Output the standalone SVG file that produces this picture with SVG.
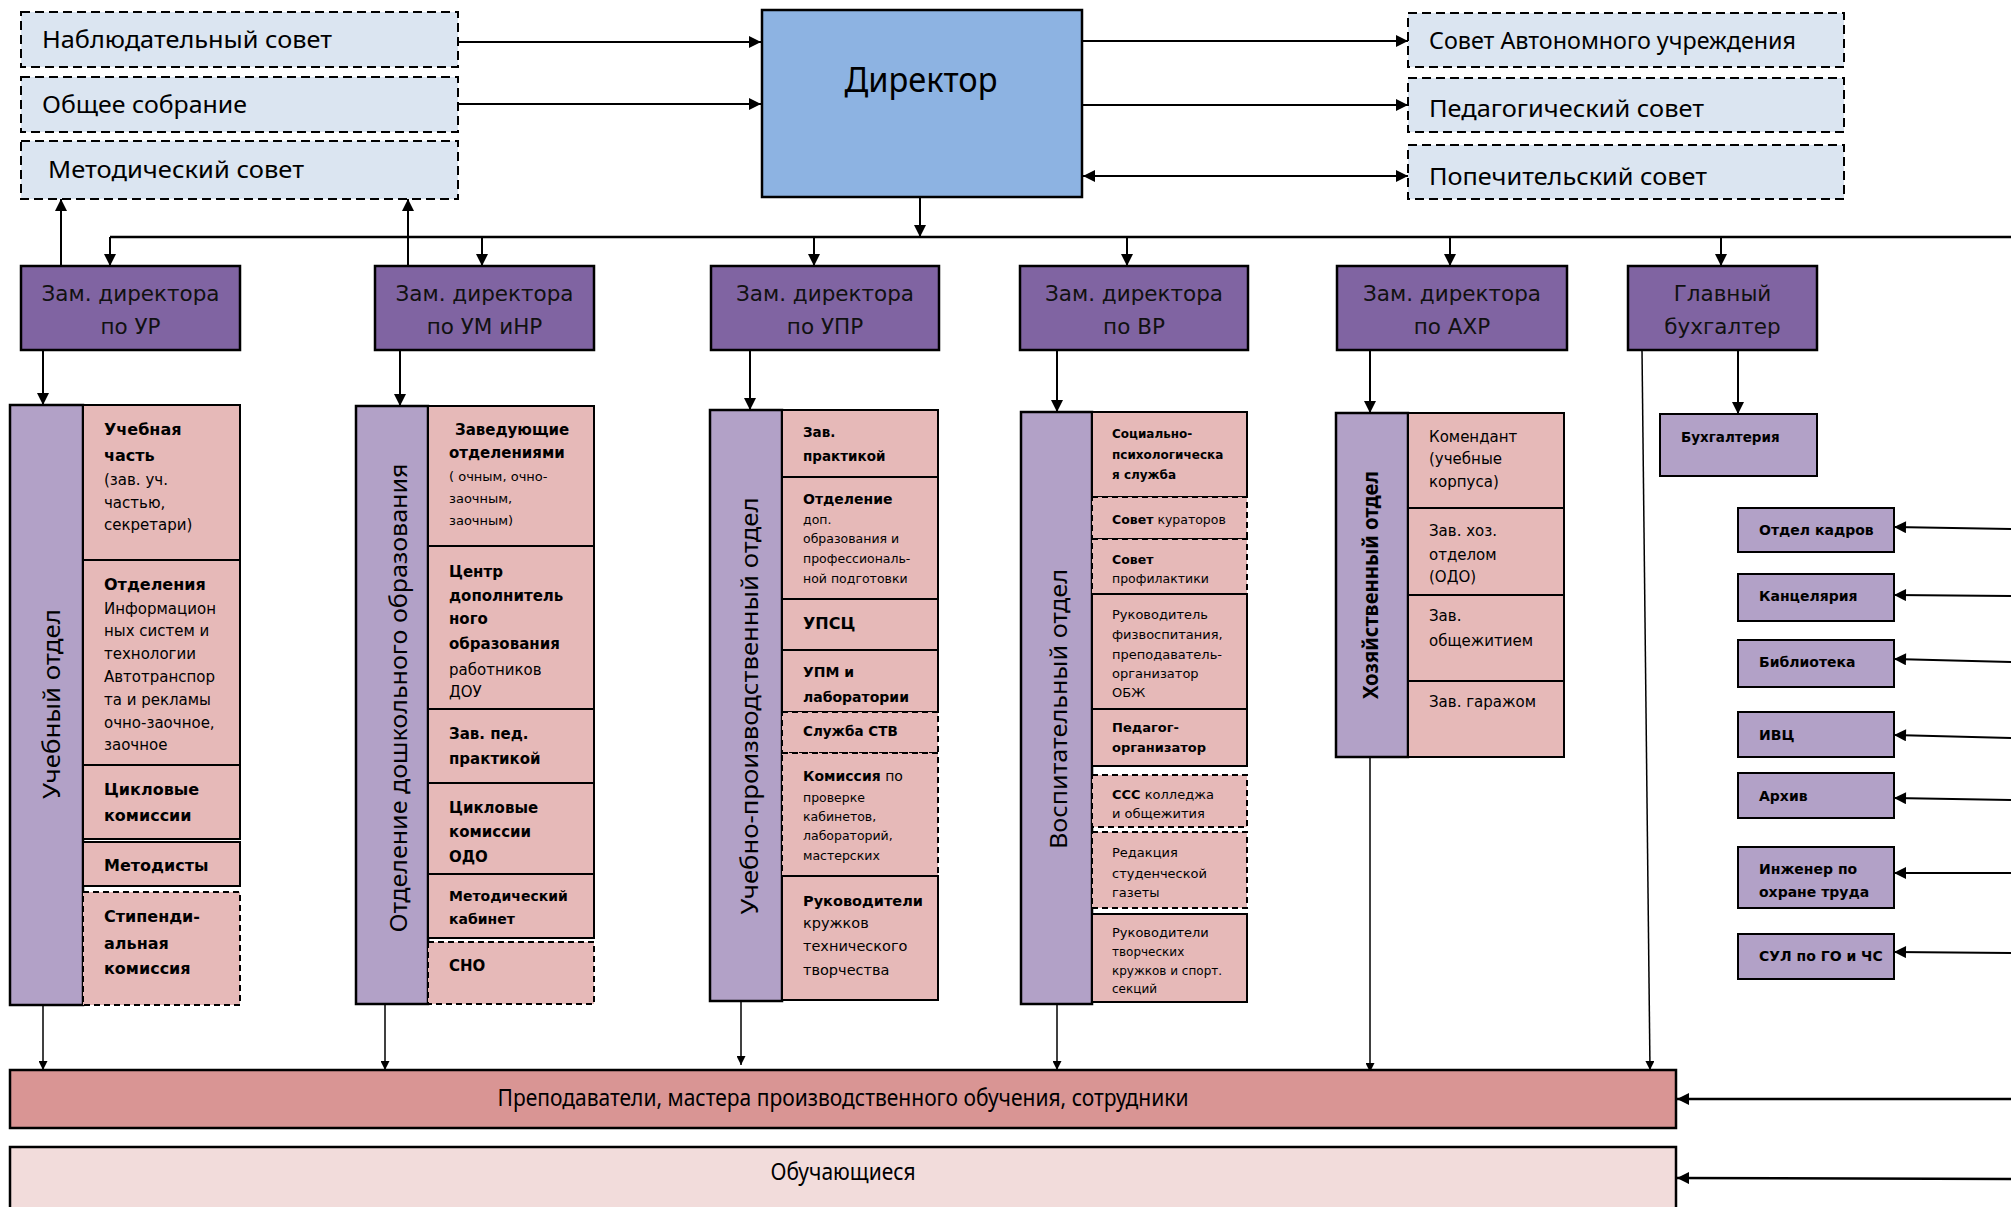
<svg xmlns="http://www.w3.org/2000/svg" width="2011" height="1207" viewBox="0 0 2011 1207">
<style>
.top{fill:#dbe5f1;stroke:#000;stroke-width:2;stroke-dasharray:9 5}
.dir{fill:#8db3e2;stroke:#000;stroke-width:2.5}
.zam{fill:#8064a2;stroke:#000;stroke-width:2.5}
.dept{fill:#b2a1c7;stroke:#000;stroke-width:2.5}
.sub{fill:#e6b9b8;stroke:#000;stroke-width:2}
.subd{fill:#e6b9b8;stroke:#000;stroke-width:2;stroke-dasharray:6 4}
.side{fill:#b2a1c7;stroke:#000;stroke-width:2}
.staff{fill:#d99594;stroke:#000;stroke-width:2.5}
.stud{fill:#f2dcdb;stroke:#000;stroke-width:2.5}
.tt{font-family:"Noto Sans","Open Sans",sans-serif;font-size:24px;fill:#000}
.tz{font-family:"DejaVu Sans",sans-serif;font-size:21.5px;fill:#111;text-anchor:middle}
.tv{font-family:"Noto Sans","Open Sans",sans-serif;font-size:24px;fill:#000;text-anchor:middle;dominant-baseline:central}
.s{font-family:"DejaVu Sans",sans-serif;fill:#000}
.b{font-weight:bold}
.c{stroke:#000;stroke-width:2;fill:none}
.cb{stroke:#000;stroke-width:2.5;fill:none}
.ct{stroke:#000;stroke-width:1.5;fill:none}
</style>
<defs>
<marker id="ah" viewBox="0 0 10 10" refX="10" refY="5" markerWidth="14" markerHeight="12" markerUnits="userSpaceOnUse" orient="auto-start-reverse"><path d="M0,0 L10,5 L0,10 z" fill="#000"/></marker>
<marker id="at" viewBox="0 0 10 10" refX="10" refY="5" markerWidth="16" markerHeight="9" markerUnits="userSpaceOnUse" orient="auto"><path d="M0,0 L10,5 L0,10 z" fill="#000"/></marker>
</defs>

<g id="connectors">
<line class="c" x1="458" y1="42" x2="761" y2="42" marker-end="url(#ah)"/>
<line class="c" x1="458" y1="104" x2="761" y2="104" marker-end="url(#ah)"/>
<line class="c" x1="1082" y1="41" x2="1408" y2="41" marker-end="url(#ah)"/>
<line class="c" x1="1082" y1="105" x2="1408" y2="105" marker-end="url(#ah)"/>
<line class="c" x1="1083" y1="176" x2="1408" y2="176" marker-start="url(#ah)" marker-end="url(#ah)"/>
<line class="c" x1="920" y1="197" x2="920" y2="237" marker-end="url(#ah)"/>
<line class="cb" x1="110" y1="237" x2="2011" y2="237"/>
<line class="c" x1="110" y1="237" x2="110" y2="266" marker-end="url(#ah)"/>
<line class="c" x1="482" y1="237" x2="482" y2="266" marker-end="url(#ah)"/>
<line class="c" x1="814" y1="237" x2="814" y2="266" marker-end="url(#ah)"/>
<line class="c" x1="1127" y1="237" x2="1127" y2="266" marker-end="url(#ah)"/>
<line class="c" x1="1450" y1="237" x2="1450" y2="266" marker-end="url(#ah)"/>
<line class="c" x1="1721" y1="237" x2="1721" y2="266" marker-end="url(#ah)"/>
<line class="c" x1="61" y1="266" x2="61" y2="199" marker-end="url(#ah)"/>
<line class="c" x1="408" y1="266" x2="408" y2="199" marker-end="url(#ah)"/>
<line class="c" x1="43" y1="350" x2="43" y2="405" marker-end="url(#ah)"/>
<line class="c" x1="400" y1="350" x2="400" y2="406" marker-end="url(#ah)"/>
<line class="c" x1="750" y1="350" x2="750" y2="410" marker-end="url(#ah)"/>
<line class="c" x1="1057" y1="350" x2="1057" y2="412" marker-end="url(#ah)"/>
<line class="c" x1="1370" y1="350" x2="1370" y2="413" marker-end="url(#ah)"/>
<line class="c" x1="1738" y1="350" x2="1738" y2="414" marker-end="url(#ah)"/>
<line class="ct" x1="43" y1="1005" x2="43" y2="1070" marker-end="url(#at)"/>
<line class="ct" x1="385" y1="1004" x2="385" y2="1070" marker-end="url(#at)"/>
<line class="ct" x1="741" y1="1001" x2="741" y2="1065" marker-end="url(#at)"/>
<line class="ct" x1="1057" y1="1004" x2="1057" y2="1070" marker-end="url(#at)"/>
<line class="ct" x1="1370" y1="757" x2="1370" y2="1072" marker-end="url(#at)"/>
<line class="ct" x1="1642" y1="350" x2="1650" y2="1070" marker-end="url(#at)"/>
<line class="c" x1="2011" y1="529" x2="1894" y2="527" marker-end="url(#ah)"/>
<line class="c" x1="2011" y1="596" x2="1894" y2="595" marker-end="url(#ah)"/>
<line class="c" x1="2011" y1="662" x2="1894" y2="659" marker-end="url(#ah)"/>
<line class="c" x1="2011" y1="738" x2="1894" y2="735" marker-end="url(#ah)"/>
<line class="c" x1="2011" y1="800" x2="1894" y2="798" marker-end="url(#ah)"/>
<line class="c" x1="2011" y1="873" x2="1894" y2="873" marker-end="url(#ah)"/>
<line class="c" x1="2011" y1="953" x2="1894" y2="952" marker-end="url(#ah)"/>
<line class="cb" x1="2011" y1="1099" x2="1677" y2="1099" marker-end="url(#ah)"/>
<line class="cb" x1="2011" y1="1179" x2="1677" y2="1178" marker-end="url(#ah)"/>
</g>

<g id="nablyud"><rect class="top" x="21" y="12" width="437" height="55"/><text class="tt" x="42" y="48" textLength="290" lengthAdjust="spacingAndGlyphs">Наблюдательный совет</text></g>
<g id="obshchee"><rect class="top" x="21" y="77" width="437" height="55"/><text class="tt" x="42" y="113" textLength="205" lengthAdjust="spacingAndGlyphs">Общее собрание</text></g>
<g id="metsovet"><rect class="top" x="21" y="141" width="437" height="58"/><text class="tt" x="48" y="178" textLength="256" lengthAdjust="spacingAndGlyphs">Методический совет</text></g>

<g id="director"><rect class="dir" x="762" y="10" width="320" height="187"/><text class="tt" x="921" y="92" style="font-size:35px" text-anchor="middle" textLength="153" lengthAdjust="spacingAndGlyphs">Директор</text></g>

<g id="sovet-au"><rect class="top" x="1408" y="13" width="436" height="54"/><text class="tt" x="1429" y="49" textLength="367" lengthAdjust="spacingAndGlyphs">Совет Автономного учреждения</text></g>
<g id="pedsovet"><rect class="top" x="1408" y="78" width="436" height="54"/><text class="tt" x="1429" y="117" textLength="275" lengthAdjust="spacingAndGlyphs">Педагогический совет</text></g>
<g id="popech"><rect class="top" x="1408" y="145" width="436" height="54"/><text class="tt" x="1429" y="185" textLength="278" lengthAdjust="spacingAndGlyphs">Попечительский совет</text></g>

<g id="zam-ur"><rect class="zam" x="21" y="266" width="219" height="84"/><text class="tz" x="130.5" y="301">Зам. директора</text><text class="tz" x="130.5" y="334">по УР</text></g>
<g id="zam-um"><rect class="zam" x="375" y="266" width="219" height="84"/><text class="tz" x="484.5" y="301">Зам. директора</text><text class="tz" x="484.5" y="334">по УМ иНР</text></g>
<g id="zam-upr"><rect class="zam" x="711" y="266" width="228" height="84"/><text class="tz" x="825" y="301">Зам. директора</text><text class="tz" x="825" y="334">по УПР</text></g>
<g id="zam-vr"><rect class="zam" x="1020" y="266" width="228" height="84"/><text class="tz" x="1134" y="301">Зам. директора</text><text class="tz" x="1134" y="334">по ВР</text></g>
<g id="zam-ahr"><rect class="zam" x="1337" y="266" width="230" height="84"/><text class="tz" x="1452" y="301">Зам. директора</text><text class="tz" x="1452" y="334">по АХР</text></g>
<g id="glbuh"><rect class="zam" x="1628" y="266" width="189" height="84"/><text class="tz" x="1722.5" y="301">Главный</text><text class="tz" x="1722.5" y="334">бухгалтер</text></g>

<!-- Column 1 -->
<g id="ucheb-otdel"><rect class="dept" x="10" y="405" width="73" height="600"/><text class="tv" transform="translate(50,704) rotate(-90)" textLength="190" lengthAdjust="spacingAndGlyphs">Учебный отдел</text></g>
<g id="ucheb-chast"><rect class="sub" x="83" y="405" width="157" height="155"/><text class="s" font-size="15"><tspan class="b" font-size="16" x="104" y="435">Учебная</tspan><tspan class="b" font-size="16" x="104" y="461">часть</tspan><tspan x="104" y="485">(зав. уч.</tspan><tspan x="104" y="508">частью,</tspan><tspan x="104" y="530">секретари)</tspan></text></g>
<g id="otdeleniya"><rect class="sub" x="83" y="560" width="157" height="205"/><text class="s" font-size="15"><tspan class="b" font-size="16" x="104" y="590">Отделения</tspan><tspan x="104" y="614">Информацион</tspan><tspan x="104" y="636">ных систем и</tspan><tspan x="104" y="659">технологии</tspan><tspan x="104" y="682">Автотранспор</tspan><tspan x="104" y="705">та и рекламы</tspan><tspan x="104" y="728">очно-заочное,</tspan><tspan x="104" y="750">заочное</tspan></text></g>
<g id="cikl1"><rect class="sub" x="83" y="765" width="157" height="74"/><text class="s b" font-size="16"><tspan x="104" y="795">Цикловые</tspan><tspan x="104" y="821">комиссии</tspan></text></g>
<g id="metodisty"><rect class="sub" x="83" y="842" width="157" height="44"/><text class="s b" font-size="16" x="104" y="871">Методисты</text></g>
<g id="stipend"><rect class="subd" x="83" y="892" width="157" height="113"/><text class="s b" font-size="16"><tspan x="104" y="922">Стипенди-</tspan><tspan x="104" y="949">альная</tspan><tspan x="104" y="974">комиссия</tspan></text></g>

<!-- Column 2 -->
<g id="odo"><rect class="dept" x="356" y="406" width="72" height="598"/><text class="tv" transform="translate(397,698) rotate(-90)" textLength="469" lengthAdjust="spacingAndGlyphs">Отделение дошкольного образования</text></g>
<g id="zaved"><rect class="sub" x="428" y="406" width="166" height="140"/><text class="s" font-size="13"><tspan class="b" font-size="15" x="455" y="435">Заведующие</tspan><tspan class="b" font-size="15" x="449" y="458">отделениями</tspan><tspan x="449" y="481">( очным, очно-</tspan><tspan x="449" y="503">заочным,</tspan><tspan x="449" y="525">заочным)</tspan></text></g>
<g id="centr"><rect class="sub" x="428" y="546" width="166" height="163"/><text class="s" font-size="15"><tspan class="b" x="449" y="577">Центр</tspan><tspan class="b" x="449" y="601">дополнитель</tspan><tspan class="b" x="449" y="624">ного</tspan><tspan class="b" x="449" y="649">образования</tspan><tspan x="449" y="675">работников</tspan><tspan x="449" y="697">ДОУ</tspan></text></g>
<g id="zavped"><rect class="sub" x="428" y="709" width="166" height="74"/><text class="s b" font-size="15"><tspan x="449" y="739">Зав. пед.</tspan><tspan x="449" y="764">практикой</tspan></text></g>
<g id="cikl2"><rect class="sub" x="428" y="783" width="166" height="91"/><text class="s b" font-size="15"><tspan x="449" y="813">Цикловые</tspan><tspan x="449" y="837">комиссии</tspan><tspan x="449" y="862">ОДО</tspan></text></g>
<g id="metkab"><rect class="sub" x="428" y="874" width="166" height="64"/><text class="s b" font-size="14"><tspan x="449" y="901">Методический</tspan><tspan x="449" y="924">кабинет</tspan></text></g>
<g id="sno"><rect class="subd" x="428" y="942" width="166" height="62"/><text class="s b" font-size="15" x="449" y="971">СНО</text></g>

<!-- Column 3 -->
<g id="upr-otdel"><rect class="dept" x="710" y="410" width="72" height="591"/><text class="tv" transform="translate(748,706) rotate(-90)" textLength="417" lengthAdjust="spacingAndGlyphs">Учебно-производственный отдел</text></g>
<g id="zavprakt"><rect class="sub" x="782" y="410" width="156" height="67"/><text class="s b" font-size="13.5"><tspan x="803" y="437">Зав.</tspan><tspan x="803" y="461">практикой</tspan></text></g>
<g id="otd-dop"><rect class="sub" x="782" y="477" width="156" height="122"/><text class="s" font-size="12.5"><tspan class="b" font-size="14" x="803" y="504">Отделение</tspan><tspan x="803" y="524">доп.</tspan><tspan x="803" y="543">образования и</tspan><tspan x="803" y="563">профессиональ-</tspan><tspan x="803" y="583">ной подготовки</tspan></text></g>
<g id="upsc"><rect class="sub" x="782" y="599" width="156" height="51"/><text class="s b" font-size="16" x="803" y="629">УПСЦ</text></g>
<g id="upm"><rect class="sub" x="782" y="650" width="156" height="62"/><text class="s b" font-size="14"><tspan x="803" y="677">УПМ и</tspan><tspan x="803" y="702">лаборатории</tspan></text></g>
<g id="stv"><rect class="subd" x="782" y="712" width="156" height="41"/><text class="s b" font-size="13.5" x="803" y="736">Служба СТВ</text></g>
<g id="komissiya"><rect class="subd" x="782" y="753" width="156" height="123"/><text class="s" font-size="12.5"><tspan class="b" font-size="14" x="803" y="781">Комиссия</tspan><tspan font-size="14"> по</tspan><tspan x="803" y="802">проверке</tspan><tspan x="803" y="821">кабинетов,</tspan><tspan x="803" y="840">лабораторий,</tspan><tspan x="803" y="860">мастерских</tspan></text></g>
<g id="ruk-tech"><rect class="sub" x="782" y="876" width="156" height="124"/><text class="s" font-size="14.5"><tspan class="b" font-size="14.5" x="803" y="906">Руководители</tspan><tspan x="803" y="928">кружков</tspan><tspan x="803" y="951">технического</tspan><tspan x="803" y="975">творчества</tspan></text></g>

<!-- Column 4 -->
<g id="vosp-otdel"><rect class="dept" x="1021" y="412" width="71" height="592"/><text class="tv" transform="translate(1057,709) rotate(-90)" textLength="280" lengthAdjust="spacingAndGlyphs">Воспитательный отдел</text></g>
<g id="socpsy"><rect class="sub" x="1092" y="412" width="155" height="85"/><text class="s b" font-size="12"><tspan x="1112" y="438">Социально-</tspan><tspan x="1112" y="459">психологическа</tspan><tspan x="1112" y="479">я служба</tspan></text></g>
<g id="kuratory"><rect class="subd" x="1092" y="497" width="155" height="42"/><text class="s" font-size="12.5" x="1112" y="524"><tspan class="b">Совет</tspan> кураторов</text></g>
<g id="profil"><rect class="subd" x="1092" y="539" width="155" height="55"/><text class="s" font-size="12.5"><tspan class="b" x="1112" y="564">Совет</tspan><tspan x="1112" y="583">профилактики</tspan></text></g>
<g id="fizv"><rect class="sub" x="1092" y="594" width="155" height="115"/><text class="s" font-size="13"><tspan x="1112" y="619">Руководитель</tspan><tspan x="1112" y="639">физвоспитания,</tspan><tspan x="1112" y="659">преподаватель-</tspan><tspan x="1112" y="678">организатор</tspan><tspan x="1112" y="697">ОБЖ</tspan></text></g>
<g id="pedorg"><rect class="sub" x="1092" y="709" width="155" height="57"/><text class="s b" font-size="13"><tspan x="1112" y="732">Педагог-</tspan><tspan x="1112" y="752">организатор</tspan></text></g>
<g id="sss"><rect class="subd" x="1092" y="775" width="155" height="52"/><text class="s" font-size="13"><tspan class="b" x="1112" y="799">ССС</tspan><tspan>   колледжа</tspan><tspan x="1112" y="818">и общежития</tspan></text></g>
<g id="redakciya"><rect class="subd" x="1092" y="832" width="155" height="76"/><text class="s" font-size="13"><tspan x="1112" y="857">Редакция</tspan><tspan x="1112" y="878">студенческой</tspan><tspan x="1112" y="897">газеты</tspan></text></g>
<g id="ruk-tvor"><rect class="sub" x="1092" y="914" width="155" height="88"/><text class="s" font-size="12"><tspan font-size="13" x="1112" y="937">Руководители</tspan><tspan x="1112" y="956">творческих</tspan><tspan x="1112" y="975">кружков и спорт.</tspan><tspan x="1112" y="993">секций</tspan></text></g>

<!-- Column 5 -->
<g id="hoz-otdel"><rect class="dept" x="1336" y="413" width="72" height="344"/><text class="tv b" style="font-size:21px" transform="translate(1370,585) rotate(-90)" textLength="228" lengthAdjust="spacingAndGlyphs">Хозяйственный отдел</text></g>
<g id="komendant"><rect class="sub" x="1408" y="413" width="156" height="95"/><text class="s" font-size="15"><tspan x="1429" y="442">Комендант</tspan><tspan x="1429" y="464">(учебные</tspan><tspan x="1429" y="487">корпуса)</tspan></text></g>
<g id="zavhoz"><rect class="sub" x="1408" y="508" width="156" height="87"/><text class="s" font-size="15"><tspan x="1429" y="536">Зав. хоз.</tspan><tspan x="1429" y="560">отделом</tspan><tspan x="1429" y="582">(ОДО)</tspan></text></g>
<g id="zavobsh"><rect class="sub" x="1408" y="595" width="156" height="86"/><text class="s" font-size="15"><tspan x="1429" y="621">Зав.</tspan><tspan x="1429" y="646">общежитием</tspan></text></g>
<g id="zavgar"><rect class="sub" x="1408" y="681" width="156" height="76"/><text class="s" font-size="15" x="1429" y="707">Зав. гаражом</text></g>

<!-- Right side -->
<g id="buhgalteriya"><rect class="side" x="1660" y="414" width="157" height="62"/><text class="s b" font-size="13.5" x="1681" y="442">Бухгалтерия</text></g>
<g id="kadry"><rect class="side" x="1738" y="508" width="156" height="44"/><text class="s b" font-size="14" x="1759" y="535">Отдел кадров</text></g>
<g id="kanc"><rect class="side" x="1738" y="574" width="156" height="47"/><text class="s b" font-size="14" x="1759" y="601">Канцелярия</text></g>
<g id="biblio"><rect class="side" x="1738" y="640" width="156" height="47"/><text class="s b" font-size="14" x="1759" y="667">Библиотека</text></g>
<g id="ivc"><rect class="side" x="1738" y="712" width="156" height="45"/><text class="s b" font-size="14" x="1759" y="740">ИВЦ</text></g>
<g id="arhiv"><rect class="side" x="1738" y="773" width="156" height="45"/><text class="s b" font-size="14" x="1759" y="801">Архив</text></g>
<g id="inzhener"><rect class="side" x="1738" y="847" width="156" height="61"/><text class="s b" font-size="14"><tspan x="1759" y="874">Инженер по</tspan><tspan x="1759" y="897">охране труда</tspan></text></g>
<g id="sul"><rect class="side" x="1738" y="934" width="156" height="45"/><text class="s b" font-size="14" x="1759" y="961">СУЛ по ГО и ЧС</text></g>

<!-- Bottom -->
<g id="prepodavateli"><rect class="staff" x="10" y="1070" width="1666" height="58"/><text class="tt" style="font-size:23px" x="843" y="1097" text-anchor="middle" dominant-baseline="central" textLength="691" lengthAdjust="spacingAndGlyphs">Преподаватели, мастера производственного обучения, сотрудники</text></g>
<g id="obuchayushchiesya"><rect class="stud" x="10" y="1147" width="1666" height="70"/><text class="tt" style="font-size:23px" x="843" y="1171" text-anchor="middle" dominant-baseline="central" textLength="145" lengthAdjust="spacingAndGlyphs">Обучающиеся</text></g>
</svg>
